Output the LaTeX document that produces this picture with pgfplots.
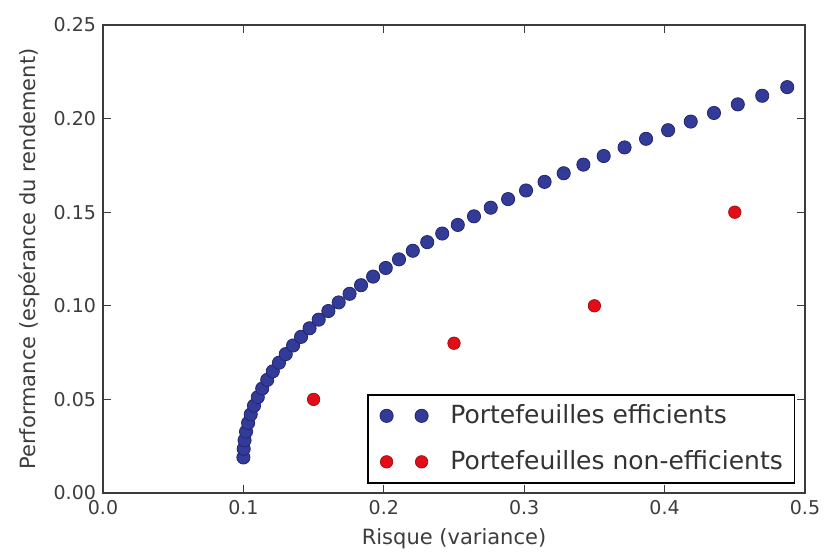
\documentclass[border=0pt]{standalone}
\usepackage{fontspec}
\setmainfont{DejaVu Sans}
\usepackage{pgfplots}
\pgfplotsset{compat=1.18}
\definecolor{bl}{RGB}{50,60,152}
\definecolor{ble}{RGB}{35,38,110}
\definecolor{rd}{RGB}{228,12,22}
\definecolor{rde}{RGB}{160,20,20}
\definecolor{axc}{RGB}{60,60,60}
\begin{document}
\begin{tikzpicture}
\begin{axis}[
  scale only axis, width=351pt, height=234pt,
  xmin=0, xmax=0.5, ymin=0, ymax=0.25,
  xtick={0,0.1,0.2,0.3,0.4,0.5},
  ytick={0,0.05,0.1,0.15,0.2,0.25},
  /pgf/number format/assume math mode=true,
  xticklabel style={/pgf/number format/.cd, fixed, fixed zerofill, precision=1},
  yticklabel style={/pgf/number format/.cd, fixed, fixed zerofill, precision=2},
  tick label style={font=\fontsize{9.5}{11}\selectfont, text=axc},
  label style={font=\fontsize{10.5}{12}\selectfont, text=axc},
  xlabel={Risque (variance)},
  ylabel={Performance (espérance du rendement)},
  axis line style={axc, line width=0.8pt},
  major tick length=4pt,
  tick style={axc, line width=0.6pt},
  legend style={at={(0.986,0.02)}, anchor=south east, draw=black, line width=0.8pt,
    font=\fontsize{12.5}{14}\selectfont, inner xsep=5.75pt, inner ysep=5pt, row sep=12pt,
    nodes={inner sep=0pt}, cells={anchor=west}, text=black!80},
]
\coordinate (sw) at (rel axis cs:0,0);
\addplot[only marks, mark=*, mark size=3.3pt, color=ble, mark options={fill=bl, line width=0.4pt},
  legend image code/.code={\path (-3.3pt,0pt) (31.5pt,0pt);\filldraw[fill=bl, draw=ble, line width=0.4pt] (0pt,0pt) circle (3.3pt) (17.5pt,0pt) circle (3.3pt);}]
  table {
x y
0.10000 0.0190
0.10021 0.0236
0.10084 0.0282
0.10189 0.0328
0.10335 0.0374
0.10524 0.0420
0.10754 0.0466
0.11026 0.0512
0.11341 0.0558
0.11697 0.0604
0.12095 0.0650
0.12535 0.0696
0.13017 0.0742
0.13540 0.0788
0.14106 0.0834
0.14713 0.0880
0.15363 0.0926
0.16054 0.0972
0.16787 0.1018
0.17562 0.1064
0.18379 0.1110
0.19238 0.1156
0.20139 0.1202
0.21082 0.1248
0.22066 0.1294
0.23093 0.1340
0.24161 0.1386
0.25271 0.1432
0.26424 0.1478
0.27618 0.1524
0.28854 0.1570
0.30131 0.1616
0.31451 0.1662
0.32813 0.1708
0.34216 0.1754
0.35662 0.1800
0.37149 0.1846
0.38678 0.1892
0.40249 0.1938
0.41862 0.1984
0.43517 0.2030
0.45214 0.2076
0.46953 0.2122
0.48734 0.2168
};
\addlegendentry{Portefeuilles efficients}
\addplot[only marks, mark=*, mark size=3.1pt, color=rde, mark options={fill=rd, line width=0.4pt},
  legend image code/.code={\path (-3.3pt,0pt) (31.5pt,0pt);\filldraw[fill=rd, draw=rde, line width=0.4pt] (0pt,0pt) circle (3.1pt) (17.5pt,0pt) circle (3.1pt);}]
  table {
x y
0.15 0.05
0.25 0.08
0.35 0.10
0.45 0.15
};
\addlegendentry{Portefeuilles non-efficients}
\end{axis}
\pgfresetboundingbox
\path (sw) ++(-51.5pt,-31pt) rectangle ++(412pt,277.5pt);
\end{tikzpicture}
\end{document}
